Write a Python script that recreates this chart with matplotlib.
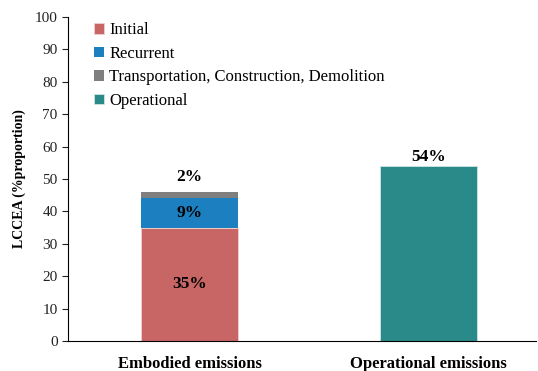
import matplotlib.pyplot as plt

plt.rcParams['font.family'] = ['Liberation Serif', 'DejaVu Serif']

categories = ["Embodied emissions", "Operational emissions"]
initial = [35, 0]
recurrent = [9, 0]
tcd = [2, 0]
operational = [0, 54]

fig = plt.figure(figsize=(5.38, 3.71), dpi=100)
ax = fig.add_axes([0.1264, 0.081, 0.87, 0.873])

x = [0, 1]
w = 0.405
ax.bar(x[0], initial[0], w, color="#C76664", edgecolor="#F0D0D0", linewidth=0.6, label="Initial")
ax.bar(x[0], recurrent[0], w, bottom=initial[0], color="#1C7FC0", linewidth=0, label="Recurrent")
ax.bar(x[0], tcd[0], w, bottom=initial[0] + recurrent[0], color="#7F7F7F", linewidth=0,
       label="Transportation, Construction, Demolition")
ax.bar(x[1], operational[1], w, color="#2A8A8A", edgecolor="#CFE5E5", linewidth=0.6, label="Operational")

lab = dict(ha="center", va="center", fontsize=12.5, fontweight="bold")
ax.text(x[0], initial[0] / 2, "%d%%" % initial[0], **lab)
ax.text(x[0], initial[0] + recurrent[0] / 2, "%d%%" % recurrent[0], **lab)
ax.text(x[0], initial[0] + recurrent[0] + tcd[0] + 4.5, "%d%%" % tcd[0], **lab)
ax.text(x[1], operational[1] + 2.8, "%d%%" % operational[1], **lab)

ax.set_xlim(-0.51, 1.45)
ax.set_ylim(0, 100)
ax.set_yticks(range(0, 101, 10))
ax.set_xticks(x)
ax.set_xticklabels(categories, fontsize=12, fontweight="bold")
ax.tick_params(axis="x", length=0, pad=11)
ax.tick_params(axis="y", labelsize=11, direction="out", length=4, colors="#222222")
ax.spines["top"].set_visible(False)
ax.spines["right"].set_visible(False)
ax.set_ylabel("LCCEA (%proportion)", fontsize=10, fontweight="bold", labelpad=6)

ax.legend(loc="upper left", bbox_to_anchor=(0.035, 1.015), frameon=False, fontsize=12,
          handlelength=0.6, handleheight=0.6, handletextpad=0.3, labelspacing=0.45,
          borderaxespad=0.2)

fig.savefig("out.png", dpi=100)
